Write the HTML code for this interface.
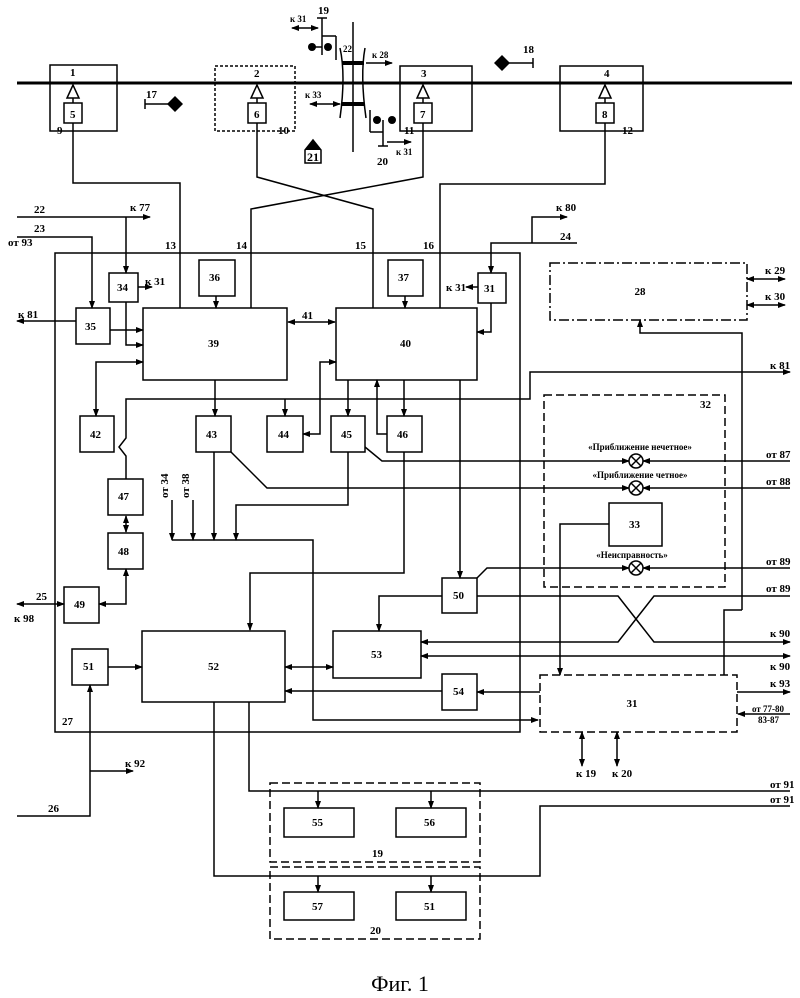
<!DOCTYPE html>
<html><head><meta charset="utf-8"><style>
body{margin:0;background:#fff}
svg{display:block}
text{font-family:"Liberation Serif",serif;fill:#000}
.c{text-anchor:middle}
</style></head><body>
<svg width="800" height="998" viewBox="0 0 800 998" xmlns="http://www.w3.org/2000/svg">
<defs>
<marker id="a" markerWidth="8" markerHeight="8" refX="7" refY="4" orient="auto" markerUnits="userSpaceOnUse"><path d="M0,1 L8,4 L0,7 Z" fill="#000"/></marker>
<marker id="b" markerWidth="8" markerHeight="8" refX="1" refY="4" orient="auto" markerUnits="userSpaceOnUse"><path d="M8,1 L0,4 L8,7 Z" fill="#000"/></marker>
</defs>
<g fill="none" stroke="#000" stroke-width="1.5">
<line x1="17" y1="83" x2="792" y2="83" stroke-width="3"/>
<rect x="50" y="65" width="67" height="66"/>
<rect x="215" y="66" width="80" height="65" stroke-dasharray="3,2"/>
<rect x="400" y="66" width="72" height="65"/>
<rect x="560" y="66" width="83" height="65"/>
<path d="M73,85 L67,98 L79,98 Z M257,85 L251,98 L263,98 Z M423,85 L417,98 L429,98 Z M605,85 L599,98 L611,98 Z"/>
<line x1="73" y1="98" x2="73" y2="103"/><line x1="257" y1="98" x2="257" y2="103"/><line x1="423" y1="98" x2="423" y2="103"/><line x1="605" y1="98" x2="605" y2="103"/>
<rect x="64" y="103" width="18" height="20"/><rect x="248" y="103" width="18" height="20"/><rect x="414" y="103" width="18" height="20"/><rect x="596" y="103" width="18" height="20"/>
<line x1="322" y1="18" x2="322" y2="55"/><line x1="317" y1="18" x2="327" y2="18"/><line x1="322" y1="36" x2="336" y2="36"/><line x1="336" y1="36" x2="336" y2="60"/>
<line x1="292" y1="28" x2="318" y2="28" marker-start="url(#b)" marker-end="url(#a)"/>
<line x1="312" y1="47" x2="322" y2="47"/>
<line x1="353" y1="22" x2="353" y2="152"/>
<path d="M340,48 Q346,75 340,118 M365,48 Q360,75 366,118"/>
<line x1="342" y1="63" x2="364" y2="63" stroke-width="4"/>
<line x1="342" y1="104" x2="364" y2="104" stroke-width="4"/>
<line x1="366" y1="63" x2="392" y2="63" marker-end="url(#a)"/>
<line x1="310" y1="104" x2="340" y2="104" marker-start="url(#b)" marker-end="url(#a)"/>
<line x1="370" y1="110" x2="370" y2="132"/><line x1="370" y1="132" x2="383" y2="132"/><line x1="383" y1="120" x2="383" y2="146"/><line x1="378" y1="146" x2="388" y2="146"/>
<line x1="387" y1="142" x2="411" y2="142" marker-end="url(#a)"/>
<line x1="145" y1="99" x2="145" y2="109"/><line x1="145" y1="104" x2="168" y2="104"/>
<line x1="533" y1="58" x2="533" y2="68"/><line x1="509" y1="63" x2="533" y2="63"/>
<path d="M305,150 L313,140 L321,150 L321,163 L305,163 Z"/>
<polyline points="73,123 73,183 180,183 180,308"/>
<polyline points="257,123 257,177 373,209 373,308"/>
<polyline points="423,123 423,177 251,209 251,308"/>
<polyline points="605,123 605,184 440,184 440,308"/>
<rect x="55" y="253" width="465" height="479"/>
<line x1="17" y1="217" x2="150" y2="217" marker-end="url(#a)"/>
<line x1="126" y1="217" x2="126" y2="273" marker-end="url(#a)"/>
<polyline points="17,237 92,237 92,308" marker-end="url(#a)"/>
<rect x="109" y="273" width="29" height="29"/>
<line x1="138" y1="287" x2="152" y2="287" marker-end="url(#a)"/>
<rect x="76" y="308" width="34" height="36"/>
<line x1="76" y1="321" x2="17" y2="321" marker-end="url(#a)"/>
<line x1="110" y1="330" x2="143" y2="330" marker-end="url(#a)"/>
<polyline points="126,302 126,345 143,345" marker-end="url(#a)"/>
<rect x="199" y="260" width="36" height="36"/><line x1="216" y1="296" x2="216" y2="308" marker-end="url(#a)"/>
<rect x="388" y="260" width="35" height="36"/><line x1="405" y1="296" x2="405" y2="308" marker-end="url(#a)"/>
<rect x="143" y="308" width="144" height="72"/>
<rect x="336" y="308" width="141" height="72"/>
<line x1="288" y1="322" x2="335" y2="322" marker-start="url(#b)" marker-end="url(#a)"/>
<polyline points="577,243 491,243 491,273" marker-end="url(#a)"/>
<polyline points="532,243 532,217 567,217" marker-end="url(#a)"/>
<rect x="478" y="273" width="28" height="30"/>
<line x1="478" y1="287" x2="466" y2="287" marker-end="url(#a)"/>
<polyline points="491,303 491,332 477,332" marker-end="url(#a)"/>
<rect x="550" y="263" width="197" height="57" stroke-dasharray="10,3,2,3"/>
<line x1="747" y1="279" x2="785" y2="279" marker-start="url(#b)" marker-end="url(#a)"/>
<line x1="747" y1="305" x2="785" y2="305" marker-start="url(#b)" marker-end="url(#a)"/>
<polyline points="742,610 742,333 640,333 640,320" marker-end="url(#a)"/>
<polyline points="742,610 724,610 724,675"/>
<rect x="80" y="416" width="34" height="36"/>
<rect x="196" y="416" width="35" height="36"/>
<rect x="267" y="416" width="36" height="36"/>
<rect x="331" y="416" width="34" height="36"/>
<rect x="387" y="416" width="35" height="36"/>
<polyline points="96,416 96,362 143,362" marker-start="url(#b)" marker-end="url(#a)"/>
<line x1="215" y1="380" x2="215" y2="416" marker-end="url(#a)"/>
<polyline points="126,479 126,456 119,447 126,438 126,399 530,399 530,372 790,372" marker-end="url(#a)"/>
<line x1="285" y1="399" x2="285" y2="416" marker-end="url(#a)"/>
<polyline points="336,362 320,362 320,434 303,434" marker-start="url(#b)" marker-end="url(#a)"/>
<line x1="348" y1="380" x2="348" y2="416" marker-end="url(#a)"/>
<line x1="404" y1="380" x2="404" y2="416" marker-end="url(#a)"/>
<polyline points="387,434 377,434 377,380" marker-end="url(#a)"/>
<line x1="460" y1="380" x2="460" y2="578" marker-end="url(#a)"/>
<rect x="544" y="395" width="181" height="192" stroke-dasharray="8,4"/>
<circle cx="636" cy="461" r="7"/><path d="M631,456 L641,466 M641,456 L631,466"/>
<circle cx="636" cy="488" r="7"/><path d="M631,483 L641,493 M641,483 L631,493"/>
<circle cx="636" cy="568" r="7"/><path d="M631,563 L641,573 M641,563 L631,573"/>
<polyline points="365,447 382,461 629,461" marker-end="url(#a)"/>
<line x1="790" y1="461" x2="643" y2="461" marker-end="url(#a)"/>
<polyline points="231,452 267,488 629,488" marker-end="url(#a)"/>
<line x1="790" y1="488" x2="643" y2="488" marker-end="url(#a)"/>
<polyline points="477,578 487,568 629,568" marker-end="url(#a)"/>
<line x1="790" y1="568" x2="643" y2="568" marker-end="url(#a)"/>
<rect x="609" y="503" width="53" height="43"/>
<polyline points="609,524 560,524 560,675" marker-end="url(#a)"/>
<line x1="214" y1="452" x2="214" y2="540" marker-end="url(#a)"/>
<polyline points="348,452 348,505 236,505 236,540" marker-end="url(#a)"/>
<line x1="172" y1="500" x2="172" y2="540" marker-end="url(#a)"/>
<line x1="193" y1="500" x2="193" y2="540" marker-end="url(#a)"/>
<polyline points="172,540 313,540 313,720 538,720" marker-end="url(#a)"/>
<polyline points="404,452 404,573 250,573 250,630" marker-end="url(#a)"/>
<rect x="108" y="479" width="35" height="36"/>
<rect x="108" y="533" width="35" height="36"/>
<line x1="126" y1="516" x2="126" y2="532" marker-start="url(#b)" marker-end="url(#a)"/>
<rect x="64" y="587" width="35" height="36"/>
<polyline points="126,569 126,604 99,604" marker-start="url(#b)" marker-end="url(#a)"/>
<line x1="17" y1="604" x2="64" y2="604" marker-start="url(#b)" marker-end="url(#a)"/>
<rect x="442" y="578" width="35" height="35"/>
<polyline points="442,596 379,596 379,631" marker-end="url(#a)"/>
<polyline points="477,596 618,596 654,642 790,642" marker-end="url(#a)"/>
<polyline points="790,596 654,596 618,642 421,642" marker-end="url(#a)"/>
<rect x="333" y="631" width="88" height="47"/>
<line x1="421" y1="656" x2="790" y2="656" marker-start="url(#b)" marker-end="url(#a)"/>
<rect x="142" y="631" width="143" height="71"/>
<line x1="285" y1="667" x2="333" y2="667" marker-start="url(#b)" marker-end="url(#a)"/>
<rect x="72" y="649" width="36" height="36"/>
<line x1="108" y1="667" x2="142" y2="667" marker-end="url(#a)"/>
<rect x="442" y="674" width="35" height="36"/>
<line x1="540" y1="692" x2="477" y2="692" marker-end="url(#a)"/>
<line x1="442" y1="691" x2="285" y2="691" marker-end="url(#a)"/>
<rect x="540" y="675" width="197" height="57" stroke-dasharray="8,4"/>
<line x1="737" y1="692" x2="790" y2="692" marker-end="url(#a)"/>
<line x1="790" y1="714" x2="738" y2="714" marker-end="url(#a)"/>
<line x1="582" y1="732" x2="582" y2="766" marker-start="url(#b)" marker-end="url(#a)"/>
<line x1="617" y1="732" x2="617" y2="766" marker-start="url(#b)" marker-end="url(#a)"/>
<polyline points="17,816 90,816 90,685" marker-end="url(#a)"/>
<line x1="90" y1="771" x2="133" y2="771" marker-end="url(#a)"/>
<polyline points="214,702 214,876 540,876 540,806 790,806"/>
<polyline points="249,702 249,791 790,791"/>
<rect x="270" y="783" width="210" height="79" stroke-dasharray="8,4"/>
<rect x="270" y="867" width="210" height="72" stroke-dasharray="8,4"/>
<rect x="284" y="808" width="70" height="29"/><rect x="396" y="808" width="70" height="29"/>
<rect x="284" y="892" width="70" height="28"/><rect x="396" y="892" width="70" height="28"/>
<line x1="318" y1="791" x2="318" y2="808" marker-end="url(#a)"/><line x1="431" y1="791" x2="431" y2="808" marker-end="url(#a)"/>
<line x1="318" y1="876" x2="318" y2="892" marker-end="url(#a)"/><line x1="431" y1="876" x2="431" y2="892" marker-end="url(#a)"/>
</g>
<g fill="#000">
<circle cx="312" cy="47" r="4"/><circle cx="328" cy="47" r="4"/>
<circle cx="377" cy="120" r="4"/><circle cx="392" cy="120" r="4"/>
<path d="M175,96 L183,104 L175,112 L167,104 Z"/><path d="M502,55 L510,63 L502,71 L494,63 Z"/>
<path d="M305,150 L313,140 L321,150 Z"/>
</g>
<g font-size="11" font-weight="bold">
<text x="70" y="76">1</text><text x="254" y="77">2</text><text x="421" y="77">3</text><text x="604" y="77">4</text>
<text x="70" y="118">5</text><text x="254" y="118">6</text><text x="420" y="118">7</text><text x="602" y="118">8</text>
<text x="57" y="134">9</text><text x="278" y="134">10</text><text x="404" y="134">11</text><text x="622" y="134">12</text>
<text x="318" y="14">19</text><text x="290" y="22" font-size="9">к 31</text><text x="343" y="52" font-size="9">22</text>
<text x="372" y="58" font-size="9">к 28</text><text x="305" y="98" font-size="9">к 33</text>
<text x="377" y="165">20</text><text x="396" y="155" font-size="9">к 31</text>
<text x="146" y="98">17</text><text x="523" y="53">18</text><text x="307" y="161" font-size="12">21</text>
<text x="34" y="213">22</text><text x="130" y="211">к 77</text><text x="34" y="232">23</text><text x="8" y="246">от 93</text>
<text x="165" y="249">13</text><text x="236" y="249">14</text><text x="355" y="249">15</text><text x="423" y="249">16</text>
<text x="556" y="211">к 80</text><text x="560" y="240">24</text>
<text x="117" y="291">34</text><text x="145" y="285">к 31</text><text x="85" y="330">35</text><text x="18" y="318">к 81</text>
<text x="209" y="281">36</text><text x="398" y="281">37</text><text x="446" y="291">к 31</text><text x="484" y="292">31</text>
<text x="640" y="295" class="c">28</text><text x="765" y="274">к 29</text><text x="765" y="300">к 30</text>
<text x="302" y="319">41</text><text x="208" y="347">39</text><text x="400" y="347">40</text><text x="770" y="369">к 81</text>
<text x="90" y="438">42</text><text x="206" y="438">43</text><text x="278" y="438">44</text><text x="341" y="438">45</text><text x="397" y="438">46</text>
<text x="700" y="408">32</text>
<text x="640" y="450" class="c" font-size="9">«Приближение нечетное»</text>
<text x="640" y="478" class="c" font-size="9">«Приближение четное»</text>
<text x="632" y="558" class="c" font-size="9">«Неисправность»</text>
<text x="766" y="458">от 87</text><text x="766" y="485">от 88</text><text x="766" y="565">от 89</text><text x="766" y="592">от 89</text>
<text x="629" y="528">33</text>
<text x="118" y="500">47</text><text x="118" y="555">48</text><text x="74" y="608">49</text><text x="36" y="600">25</text><text x="14" y="622">к 98</text>
<text transform="translate(168,498) rotate(-90)">от 34</text><text transform="translate(189,498) rotate(-90)">от 38</text>
<text x="453" y="599">50</text><text x="371" y="658">53</text><text x="208" y="670">52</text><text x="83" y="670">51</text><text x="453" y="695">54</text>
<text x="632" y="707" class="c">31</text>
<text x="770" y="637">к 90</text><text x="770" y="670">к 90</text><text x="770" y="687">к 93</text>
<text x="752" y="712" font-size="9">от 77-80</text><text x="758" y="723" font-size="9">83-87</text>
<text x="576" y="777">к 19</text><text x="612" y="777">к 20</text>
<text x="62" y="725">27</text><text x="125" y="767">к 92</text><text x="48" y="812">26</text>
<text x="770" y="788">от 91</text><text x="770" y="803">от 91</text>
<text x="312" y="826">55</text><text x="424" y="826">56</text><text x="312" y="910">57</text><text x="424" y="910">51</text>
<text x="372" y="857">19</text><text x="370" y="934">20</text>
<text x="400" y="991" class="c" font-size="22" font-weight="normal">Фиг. 1</text>
</g>
</svg>
</body></html>
